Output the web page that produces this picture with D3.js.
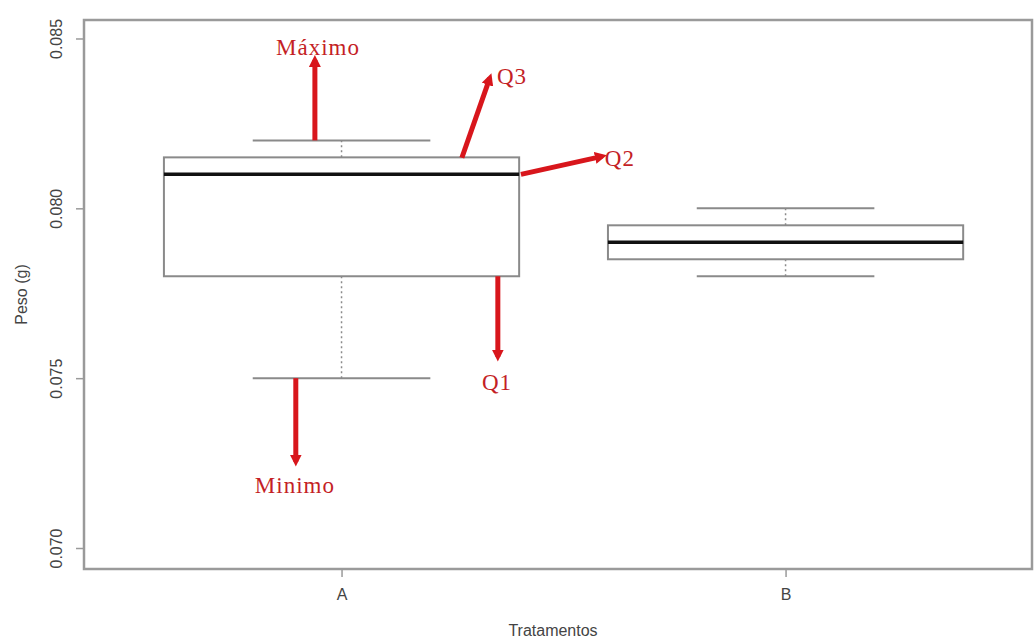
<!DOCTYPE html>
<html>
<head>
<meta charset="utf-8">
<script src="https://cdn.jsdelivr.net/npm/d3@7"></script>
<style>
  html, body { margin: 0; padding: 0; background: #fff; }
  svg { display: block; }
</style>
</head>
<body>
<div id="chart"></div>
<script>
// boxplot summary per treatment
const groups = ['A', 'B'];
const minV = [0.075, 0.078];
const q1V  = [0.078, 0.0785];
const medV = [0.081, 0.079];
const q3V  = [0.0815, 0.0795];
const maxV = [0.082, 0.080];
const yTicks = [0.070, 0.075, 0.080, 0.085];

// red annotations, in data units (x = group index, 1-based)
const annLabels = ['Máximo', 'Q3', 'Q2', 'Q1', 'Minimo'];
const annFrom   = [[0.940, 0.0820], [1.271, 0.08149], [1.404, 0.0810], [1.352, 0.0780], [0.897, 0.0750]];
const annTo     = [[0.940, 0.08437], [1.334, 0.08384], [1.587, 0.08153], [1.352, 0.07563], [0.897, 0.07254]];
const annText   = [[0.947, 0.08452], [1.350, 0.08366], [1.593, 0.08125], [1.350, 0.07466], [0.895, 0.07163]];
const annAnchor = ['middle', 'start', 'start', 'middle', 'middle'];

const W = 1035, H = 638;
const frame = { left: 84, right: 1032, top: 20, bottom: 569 };

const svg = d3.select('#chart').append('svg').attr('width', W).attr('height', H);
svg.append('rect').attr('width', W).attr('height', H).attr('fill', '#fff');

const x = d3.scaleLinear().domain([0.42, 2.555]).range([frame.left, frame.right]);
const y = d3.scaleLinear().domain([0.069382, 0.085544]).range([frame.bottom, frame.top]);

const boxHalf = 0.4, whiskHalf = 0.2;
const grey = '#8a8a8a';

groups.forEach((g, i) => {
  const cx = i + 1;
  // dotted whiskers
  [[q3V[i], maxV[i]], [q1V[i], minV[i]]].forEach(([a, b]) => {
    svg.append('line')
      .attr('x1', x(cx)).attr('x2', x(cx)).attr('y1', y(a)).attr('y2', y(b))
      .attr('stroke', grey).attr('stroke-width', 1.5).attr('stroke-dasharray', '2,3');
  });
  // whisker caps
  [maxV[i], minV[i]].forEach(v => {
    svg.append('line')
      .attr('x1', x(cx - whiskHalf)).attr('x2', x(cx + whiskHalf))
      .attr('y1', y(v)).attr('y2', y(v))
      .attr('stroke', grey).attr('stroke-width', 2);
  });
  // box
  svg.append('rect')
    .attr('x', x(cx - boxHalf)).attr('y', y(q3V[i]))
    .attr('width', x(cx + boxHalf) - x(cx - boxHalf))
    .attr('height', y(q1V[i]) - y(q3V[i]))
    .attr('fill', '#fff').attr('stroke', grey).attr('stroke-width', 2);
  // median
  svg.append('line')
    .attr('x1', x(cx - boxHalf)).attr('x2', x(cx + boxHalf))
    .attr('y1', y(medV[i])).attr('y2', y(medV[i]))
    .attr('stroke', '#111').attr('stroke-width', 3.5);
});

// frame
svg.append('rect')
  .attr('x', frame.left).attr('y', frame.top)
  .attr('width', frame.right - frame.left).attr('height', frame.bottom - frame.top)
  .attr('fill', 'none').attr('stroke', '#9a9a9a').attr('stroke-width', 2.5);

// y axis
const yAxis = svg.append('g').attr('transform', `translate(${frame.left},0)`)
  .call(d3.axisLeft(y).tickValues(yTicks).tickFormat(d3.format('.3f')).tickSize(8).tickPadding(0));
yAxis.select('.domain').remove();
yAxis.selectAll('.tick line').attr('stroke', '#9a9a9a').attr('stroke-width', 1.5);
yAxis.selectAll('.tick text')
  .attr('transform', 'rotate(-90)')
  .attr('x', 0).attr('y', -22).attr('dy', 0)
  .attr('text-anchor', 'middle')
  .attr('font-family', 'Liberation Sans, Arial, sans-serif').attr('font-size', 16)
  .attr('fill', '#444');

// x axis
const xAxis = svg.append('g').attr('transform', `translate(0,${frame.bottom})`)
  .call(d3.axisBottom(x).tickValues([1, 2]).tickFormat(d => groups[d - 1]).tickSize(8).tickPadding(12));
xAxis.select('.domain').remove();
xAxis.selectAll('.tick line').attr('stroke', '#9a9a9a').attr('stroke-width', 1.5);
xAxis.selectAll('.tick text')
  .attr('font-family', 'Liberation Sans, Arial, sans-serif').attr('font-size', 16)
  .attr('fill', '#444');

// axis titles
svg.append('text')
  .attr('transform', `translate(27,${(frame.top + frame.bottom) / 2}) rotate(-90)`)
  .attr('text-anchor', 'middle')
  .attr('font-family', 'Liberation Sans, Arial, sans-serif').attr('font-size', 16)
  .attr('fill', '#444').text('Peso (g)');
svg.append('text')
  .attr('x', (frame.left + frame.right) / 2 - 5).attr('y', 636)
  .attr('text-anchor', 'middle')
  .attr('font-family', 'Liberation Sans, Arial, sans-serif').attr('font-size', 16)
  .attr('fill', '#444').text('Tratamentos');

// annotation arrows
const red = '#d8161c';
svg.append('defs').append('marker')
  .attr('id', 'head').attr('viewBox', '0 0 10 10').attr('refX', 6).attr('refY', 5)
  .attr('markerWidth', 2.4).attr('markerHeight', 2.4).attr('orient', 'auto')
  .append('path').attr('d', 'M0,0 L10,5 L0,10 Z').attr('fill', red);

annLabels.forEach((lab, i) => {
  svg.append('line')
    .attr('x1', x(annFrom[i][0])).attr('y1', y(annFrom[i][1]))
    .attr('x2', x(annTo[i][0])).attr('y2', y(annTo[i][1]))
    .attr('stroke', red).attr('stroke-width', 5)
    .attr('marker-end', 'url(#head)');
  svg.append('text')
    .attr('x', x(annText[i][0])).attr('y', y(annText[i][1]))
    .attr('text-anchor', annAnchor[i])
    .attr('font-family', 'Liberation Serif, Times New Roman, serif').attr('font-size', 23)
    .attr('letter-spacing', 1)
    .attr('fill', '#c41f26').text(lab);
});
</script>
</body>
</html>
